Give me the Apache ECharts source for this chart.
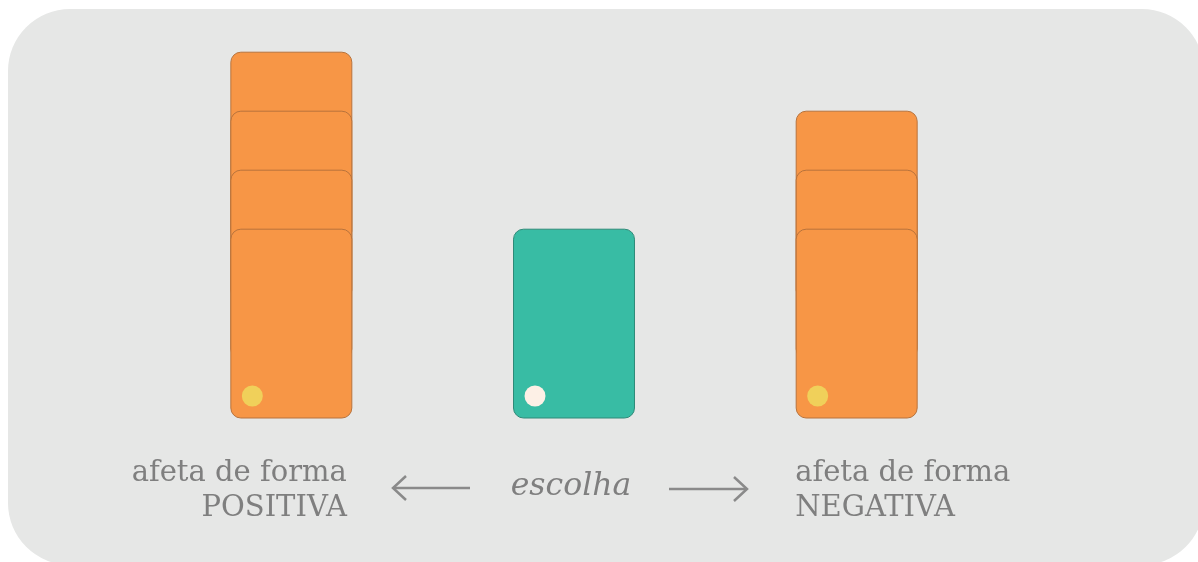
<!DOCTYPE html>
<html><head><meta charset="utf-8">
<script src="https://cdn.jsdelivr.net/npm/echarts@6/dist/echarts.min.js"></script>
<style>html,body{margin:0;padding:0;background:#fff}#c{width:1198px;height:562px}</style>
</head><body><div id="c"></div>
<script>
// categories and number of stacked cards in each
var categories = ['positiva', 'escolha', 'negativa'];
var cardCounts = [4, 1, 3];
var labelTop = ['afeta de forma', 'escolha', 'afeta de forma'];
var labelBottom = ['POSITIVA', '', 'NEGATIVA'];

var cardHeight = 3.2; // in axis units (one unit = offset between stacked cards)
var data = [];
categories.forEach(function (c, i) {
  for (var k = cardCounts[i] - 1; k >= 0; k--) data.push([i, k]);
});

var chart = echarts.init(document.getElementById('c'));
var FONT = '"DejaVu Serif", serif';
chart.setOption({
  backgroundColor: '#fff',
  animation: false,
  grid: { left: 150, right: 200, top: 5, bottom: 144 },
  xAxis: { type: 'category', data: categories, show: false },
  yAxis: { type: 'value', min: 0, max: 7, show: false },
  graphic: [
    { type: 'rect', z: -10, shape: { x: 8, y: 9, width: 1196, height: 556, r: 62 }, style: { fill: '#E6E7E6' } },
    { type: 'polyline', z: 5, shape: { points: [[470, 488], [393, 488]] }, style: { stroke: '#8A8A8A', lineWidth: 2.5, fill: null } },
    { type: 'polyline', z: 5, shape: { points: [[406, 476], [393, 488], [406, 500]] }, style: { stroke: '#8A8A8A', lineWidth: 2.5, fill: null } },
    { type: 'polyline', z: 5, shape: { points: [[669, 489], [747, 489]] }, style: { stroke: '#8A8A8A', lineWidth: 2.5, fill: null } },
    { type: 'polyline', z: 5, shape: { points: [[734, 477], [747, 489], [734, 501]] }, style: { stroke: '#8A8A8A', lineWidth: 2.5, fill: null } }
  ],
  series: [{
    type: 'custom',
    data: data,
    encode: { x: 0, y: 1 },
    renderItem: function (params, api) {
      var ci = api.value(0), k = api.value(1);
      var center = api.coord([ci, k]);
      var band = api.size([1, 0])[0];
      var w = band * 0.428;
      var top = api.coord([ci, k + cardHeight])[1];
      var bottom = center[1];
      var x0 = center[0] - w / 2;
      var teal = ci === 1;
      var children = [{
        type: 'rect',
        shape: { x: x0, y: top, width: w, height: bottom - top, r: 10 },
        style: { fill: teal ? '#38BCA4' : '#F79646', stroke: teal ? '#2E8A78' : '#B8733C', lineWidth: 1 }
      }];
      if (k === 0) {
        children.push({
          type: 'circle',
          shape: { cx: x0 + 21.5, cy: bottom - 22, r: 10.5 },
          style: { fill: teal ? '#FDF0E6' : '#F0D05A' }
        });
        var txtColor = '#7F7F7F';
        var f = '300 29px ' + FONT;
        if (ci === 0) {
          children.push({ type: 'text', style: { text: labelTop[ci], x: x0 + w - 5, y: 459, align: 'right', verticalAlign: 'top', fill: txtColor, font: f } });
          children.push({ type: 'text', style: { text: labelBottom[ci], x: x0 + w - 5, y: 494, align: 'right', verticalAlign: 'top', fill: txtColor, font: f } });
        } else if (ci === 2) {
          children.push({ type: 'text', style: { text: labelTop[ci], x: x0 - 1, y: 459, align: 'left', verticalAlign: 'top', fill: txtColor, font: f } });
          children.push({ type: 'text', style: { text: labelBottom[ci], x: x0 - 1, y: 494, align: 'left', verticalAlign: 'top', fill: txtColor, font: f } });
        } else {
          children.push({ type: 'text', style: { text: labelTop[ci], x: center[0] - 3, y: 471, align: 'center', verticalAlign: 'top', fill: txtColor, font: 'italic 300 31.5px ' + FONT } });
        }
      }
      return { type: 'group', children: children };
    }
  }]
});
</script></body></html>
